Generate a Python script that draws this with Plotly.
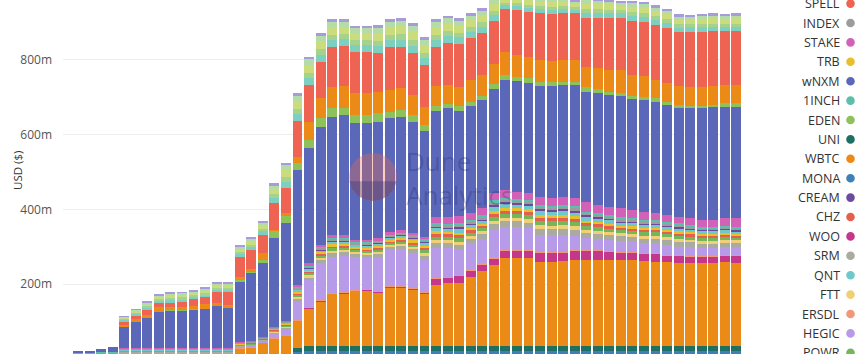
import plotly.graph_objects as go

# ---------------- data (USD, millions) ----------------
weeks = list(range(58))  # weekly bar slots, oldest first

MONA = [0,0,0,0, 5,5,5,5,5,5,5,5,5,5, 6,6,6,6,6, 18,22,22,22,22,22,22,22,22,22,22,22, 22,22,22,22,22, 22,22,22,22, 22,22,22,22, 22,22,22,22, 22,22,22,22, 22,22,22,22,22,22]
UNI = [0,0,0,0, 3,3,3,3,3,3,3,3,3,3, 6,6,6,6,6, 12,14,14,14,14,14,14,14,14,14,14,14, 14,14,14,14,14, 14,14,14,14, 14,14,14,14, 14,14,14,14, 14,14,14,14, 14,14,14,14,14,14]
WBTC = [0,0,0,0, 3,3,3,3,3,3,3,3,3,3, 17,20,31,44,52, 72,100,119,138,140,146,148,143,156,156,151,140, 162,167,167,183,199, 215,234,234,234, 223,223,226,229, 229,229,229,229, 229,226,223,223, 221,221,221,221,223,221]
WOO = [0,0,0,0, 0,0,0,0,0,0,0,0,0,0, 0,0,0,0,0, 1,1,1,1,1,1,1,1,1,1,1,1, 17,14,19,19,19, 19,19,19,19, 25,25,22,25, 25,25,22,19, 19,19,22,17, 19,17,17,17,17,19]
ERSDL = [0,0,0,0, 1,1,1,1,1,1,1,1,1,1, 1,1,1,1,1, 2,2,2,2,2,2,2,2,2,2,2,2, 2,2,2,2,2, 2,2,2,2, 2,2,2,2, 2,2,2,2, 2,2,2,2, 2,2,2,2,2,2]
HEGIC = [6,6,6,6, 3,3,3,3,3,3,3,3,3,3, 3,3,4,10,15, 48,72,99,96,96,88,83,91,96,99,94,86, 80,78,67,70,64, 72,62,62,59, 46,46,46,37, 32,29,29,29, 27,27,27,27, 21,24,21,21,21,21]
SRM = [4,4,4,4, 4,4,4,4,4,4,4,4,4,4, 3,3,3,4,5, 8,8,9,11,10,8,9,9,9,9,10,11, 13,13,14,12,13, 16,16,15,15, 16,16,16,16, 14,14,13,13, 13,12,12,12, 13,12,11,11,11,11]
FTT = [1,1,1,1, 1,1,1,1,1,1,1,1,1,1, 1,1,1,2,2, 5,5,5,6,6,5,5,5,5,5,6,7, 8,8,9,7,8, 10,9,9,9, 10,9,10,10, 8,8,8,8, 8,8,8,8, 8,7,7,7,7,7]
POWR = [2,2,2,2, 2,2,2,2,2,2,2,2,2,2, 2,2,1,3,3, 6,6,6,7,7,6,6,6,6,6,7,8, 9,9,10,9,9, 11,11,11,11, 11,11,11,11, 10,10,9,9, 9,9,9,9, 9,8,8,8,8,7]
CHZ = [1,1,1,1, 1,1,1,1,1,1,1,1,1,1, 1,1,1,2,2, 4,4,4,5,5,4,4,5,4,5,5,6, 7,6,7,6,6, 8,8,8,8, 8,8,8,8, 7,7,7,6, 6,6,6,6, 6,6,6,6,6,5]
TRB = [1,1,1,1, 1,1,1,1,1,1,1,1,1,1, 1,1,1,2,2, 4,4,4,5,5,4,4,5,4,5,5,6, 7,6,7,6,6, 8,8,7,7, 8,8,8,8, 7,7,7,6, 6,6,6,6, 6,6,6,6,6,5]
QNT = [1,1,1,1, 2,2,2,2,2,2,2,2,2,2, 1,1,1,2,3, 5,5,6,8,7,5,6,6,6,6,6,8, 10,9,10,9,9, 11,11,10,10, 11,11,11,11, 10,10,10,9, 9,9,9,9, 9,8,8,8,8,8]
CREAM = [0,0,0,0, 0,0,0,0,0,0,0,0,0,0, 0,0,0,0,1, 2,2,2,3,3,2,2,2,2,2,2,3, 3,3,4,3,3, 4,4,4,4, 4,4,4,4, 4,4,3,3, 3,3,3,3, 3,3,3,3,3,3]
INDEX = [1,1,1,1, 1,1,1,1,1,1,1,1,1,1, 1,1,1,1,1, 3,3,4,4,4,3,4,4,4,4,4,4, 5,5,6,5,5, 7,6,6,6, 7,6,7,7, 6,6,5,5, 5,5,5,5, 5,5,4,4,4,4]
ONEINCH = [1,1,1,1, 1,1,1,1,1,1,1,1,1,1, 0,0,0,1,1, 3,3,3,4,4,3,3,3,3,3,3,3, 5,5,5,4,5, 5,5,5,5, 5,5,5,5, 4,4,5,5, 5,4,4,4, 5,4,3,3,3,4]
STAKE = [0,0,0,0, 2,2,2,2,2,2,2,2,2,2, 2,2,2,2,2, 5,5,5,5,5,5,5,5,5,5,5,5, 16,19,19,19,19, 21,21,19,19, 21,21,21,21, 27,21,21,24, 21,21,19,19, 16,19,19,19,21,24]
WNXM = [2,2,8,15, 56,70,80,96,99,100,102,104,112,108, 163,182,198,238,262, 308,308,316,316,321,313,313,310,305,302,297,283, 283,292,281,286,289, 278,294,297,294, 297,300,300,302, 294,300,300,300, 297,300,297,294, 292,294,300,302,297,297]
EDEN = [0,0,0,0, 1,1,1,1,1,1,1,1,1,1, 3,3,8,19,21, 19,21,24,24,19,21,21,24,16,19,19,16, 13,11,13,11,11, 13,13,11,13, 11,11,8,8, 13,11,8,8, 8,8,11,8, 8,5,5,5,11,11]
ALCX = [0,0,0,0, 3,5,8,11,8,8,8,11,8,5, 8,8,19,3,5, 16,48,54,56,59,59,59,56,59,59,53,48, 54,51,51,59,56, 54,62,59,56, 59,54,59,59, 54,56,59,62, 56,56,48,51, 51,51,51,51,48,48]
SPELL = [0,0,0,0, 11,11,13,13,13,14,19,19,27,35, 54,51,48,70,67, 96,99,96,107,107,110,110,104,115,110,112,112, 104,112,115,112,112, 115,115,120,120, 126,126,126,126, 131,134,139,139, 144,144,147,147, 144,147,147,147,144,144]
BADGER = [0,0,0,0, 4,4,5,6,7,7,6,6,7,6, 8,8,9,14,17, 19,19,19,19,18,18,18,19,19,20,20,19, 19,18,18,17,17, 15,10,10,11, 11,11,11,9, 13,13,13,12, 14,14,13,13, 12,12,12,12,12,12]
ALPHA = [0,0,0,0, 2,3,4,4,5,5,4,5,5,5, 5,6,7,10,12, 13,14,14,13,13,13,13,14,14,14,15,14, 14,13,13,12,12, 11,7,7,8, 8,8,8,6, 9,9,9,8, 10,10,9,9, 9,8,9,8,8,8]
RGT = [0,0,0,0, 4,5,6,6,7,7,6,7,7,7, 9,9,11,15,20, 21,22,22,21,20,20,20,22,22,22,23,22, 22,21,20,19,19, 17,12,12,13, 13,13,12,10, 15,14,14,13, 15,15,15,14, 14,13,14,14,14,14]
PERP = [0,0,0,0, 3,3,4,4,5,5,4,5,5,5, 5,6,7,10,12, 14,14,14,14,13,12,12,14,13,14,15,14, 13,13,12,12,12, 11,7,7,8, 8,8,7,6, 10,9,9,8, 10,10,10,9, 8,8,8,8,8,8]
RAI = [0,0,0,0, 1,1,2,2,2,2,2,2,2,2, 3,3,3,5,7, 7,7,8,7,7,7,7,8,7,8,8,7, 7,7,7,6,7, 6,4,4,5, 5,5,4,3, 5,5,5,5, 5,5,5,5, 5,5,5,5,5,5]

# stacking order, bottom -> top: (name, values, colour)
series = [
    ("MONA", MONA, "#3d7fb8"),
    ("UNI", UNI, "#1f6f63"),
    ("WBTC", WBTC, "#ec8a17"),
    ("WOO", WOO, "#c4378a"),
    ("ERSDL", ERSDL, "#f0997a"),
    ("HEGIC", HEGIC, "#b89be8"),
    ("SRM", SRM, "#a9aaa0"),
    ("FTT", FTT, "#f1cf77"),
    ("POWR", POWR, "#76b65a"),
    ("CHZ", CHZ, "#e3604e"),
    ("TRB", TRB, "#e8be2c"),
    ("QNT", QNT, "#6fc8cb"),
    ("CREAM", CREAM, "#6a4b9f"),
    ("INDEX", INDEX, "#9c9c9c"),
    ("1INCH", ONEINCH, "#5dbfab"),
    ("STAKE", STAKE, "#d262b8"),
    ("wNXM", WNXM, "#5b67b8"),
    ("EDEN", EDEN, "#8dc25a"),
    ("ALCX", ALCX, "#ec8a17"),
    ("SPELL", SPELL, "#ee6352"),
    ("BADGER", BADGER, "#7dcfc0"),
    ("ALPHA", ALPHA, "#a5d38e"),
    ("RGT", RGT, "#cadc7c"),
    ("PERP", PERP, "#b4dca8"),
    ("RAI", RAI, "#a89bd9"),
]
for nm, vals, _ in series:
    assert len(vals) == len(weeks), nm

# legend entries visible in the window (top -> bottom)
legend_names = ["SPELL", "INDEX", "STAKE", "TRB", "wNXM", "1INCH", "EDEN", "UNI", "WBTC",
                "MONA", "CREAM", "CHZ", "WOO", "SRM", "QNT", "FTT", "ERSDL", "HEGIC", "POWR"]

y_ticks = [200, 400, 600, 800]
y_tick_labels = ["200m", "400m", "600m", "800m"]

# ---------------- figure ----------------
W, H = 866, 354
L, R, T, B = 63, 125, 0, 0
PW = W - L - R
PH = H - T - B

fig = go.Figure()
for nm, vals, col in series:
    fig.add_trace(go.Bar(x=weeks, y=vals, name=nm,
                         marker=dict(color=col, line=dict(width=0)),
                         showlegend=False,
                         hovertemplate=nm + ": %{y}m<extra></extra>"))

fig.update_layout(
    barmode="stack", bargap=0.14,
    width=W, height=H,
    margin=dict(l=L, r=R, t=T, b=B, pad=0),
    plot_bgcolor="white", paper_bgcolor="white",
    showlegend=False,
    font=dict(family="Open Sans, sans-serif", color="#333"),
)
fig.update_xaxes(range=[-1.3, 57.4], showticklabels=False, showgrid=False,
                 zeroline=False, showline=False, ticks="")
fig.update_yaxes(range=[13.4, 960], tickmode="array", tickvals=y_ticks, ticktext=y_tick_labels,
                 showgrid=True, gridcolor="#ededed", gridwidth=1,
                 zeroline=False, showline=False, ticks="", ticklabelstandoff=10,
                 tickfont=dict(family="Open Sans, sans-serif", size=12, color="#555"))

def px_to_paper_x(px):
    return (px - L) / PW

def py_to_paper_y(py):
    return 1 - (py - T) / PH

annotations = []
shapes = []

# y axis title
annotations.append(dict(text="USD ($)", xref="paper", yref="paper",
                        x=px_to_paper_x(17), y=py_to_paper_y(171),
                        xanchor="center", yanchor="middle", textangle=-90,
                        showarrow=False,
                        font=dict(family="Open Sans, sans-serif", size=11.5, color="#333")))

# custom legend: text right-aligned, dot to the right
colour_of = {nm: col for nm, _, col in series}
for i, nm in enumerate(legend_names):
    cy = py_to_paper_y(3.6 + 19.4 * i)
    annotations.append(dict(text=nm, xref="paper", yref="paper",
                            x=px_to_paper_x(841.5), y=cy,
                            xanchor="right", yanchor="middle", showarrow=False,
                            font=dict(family="Open Sans, sans-serif", size=12.5, color="#333")))
    shapes.append(dict(type="circle", xref="paper", yref="paper",
                       xsizemode="pixel", ysizemode="pixel",
                       xanchor=px_to_paper_x(850.5), yanchor=cy,
                       x0=-4.3, x1=4.3, y0=-4.3, y1=4.3,
                       fillcolor=colour_of[nm], line=dict(width=0)))

# faint watermark
wx, wy = px_to_paper_x(373), py_to_paper_y(177)
shapes.append(dict(type="circle", xref="paper", yref="paper",
                   xsizemode="pixel", ysizemode="pixel", xanchor=wx, yanchor=wy,
                   x0=-24, x1=24, y0=-24, y1=24,
                   fillcolor="rgba(240,105,80,0.33)", line=dict(width=0), layer="above"))
shapes.append(dict(type="path", xref="paper", yref="paper",
                   xsizemode="pixel", ysizemode="pixel", xanchor=wx, yanchor=wy,
                   path="M -23.6,-4.2 L -20.8,-12 L -15.4,-18.4 L -8.2,-22.6 L 0,-24 L 8.2,-22.6 L 15.4,-18.4 L 20.8,-12 L 23.6,-4.2 Z",
                   fillcolor="rgba(35,45,110,0.30)", line=dict(width=0), layer="above"))
annotations.append(dict(text="Dune<br>Analytics", xref="paper", yref="paper",
                        x=px_to_paper_x(404), y=py_to_paper_y(178),
                        xanchor="left", yanchor="middle", align="left", showarrow=False,
                        font=dict(family="Open Sans, sans-serif", size=26, color="rgba(35,45,110,0.28)")))

fig.update_layout(annotations=annotations, shapes=shapes)
fig.write_html("out.html")
